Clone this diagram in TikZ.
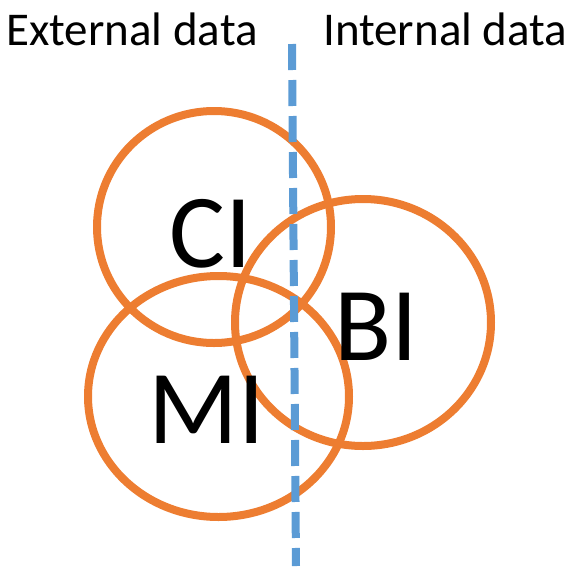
\documentclass[tikz,border=0pt]{standalone}
\usepackage{fontspec}
\setmainfont{Carlito}
\usepackage{tikz}
\definecolor{setorange}{HTML}{ED7D31}
\definecolor{divblue}{HTML}{5B9BD5}
\tikzset{
  setring/.style={draw=setorange, line width=8pt},
  divider/.style={draw=divblue, line width=8pt, dash pattern=on 26pt off 10pt},
  sidelabel/.style={anchor=base west, inner sep=0pt, font=\fontsize{47}{47}\selectfont},
  setlabel/.style={anchor=base, inner sep=0pt, font=\fontsize{105}{105}\selectfont}
}

\begin{document}
\begin{tikzpicture}[x=1pt, y=-1pt]
        \useasboundingbox (0,0) rectangle (574,566);
        % centres of the three sets
        \coordinate (cic) at (214,227);
        \coordinate (bic) at (363,322.5);
        \coordinate (mic) at (218.5,396.5);
        \draw[setring] (cic) ellipse [x radius=117pt, y radius=116pt];
        \draw[setring] (bic) ellipse [x radius=128pt, y radius=123.5pt];
        \draw[setring] (mic) ellipse [x radius=130.5pt, y radius=120.5pt];
        % labels
        \node[setlabel] (ci) at (211,267) {CI};
        \node[setlabel] (bi) at (376,360) {BI};
        \node[setlabel] (mi) at (206.5,443) {MI};
        \node[sidelabel] (extlabel) at (6,45) {External data};
        \node[sidelabel] (intlabel) at (323,45) {Internal data};
        % divider between the two sides
        \coordinate (divtop) at (292,44);
        \coordinate (divbot) at (296,566);
        \draw[divider] (divtop) -- (divbot);
    \end{tikzpicture}
\end{document}
